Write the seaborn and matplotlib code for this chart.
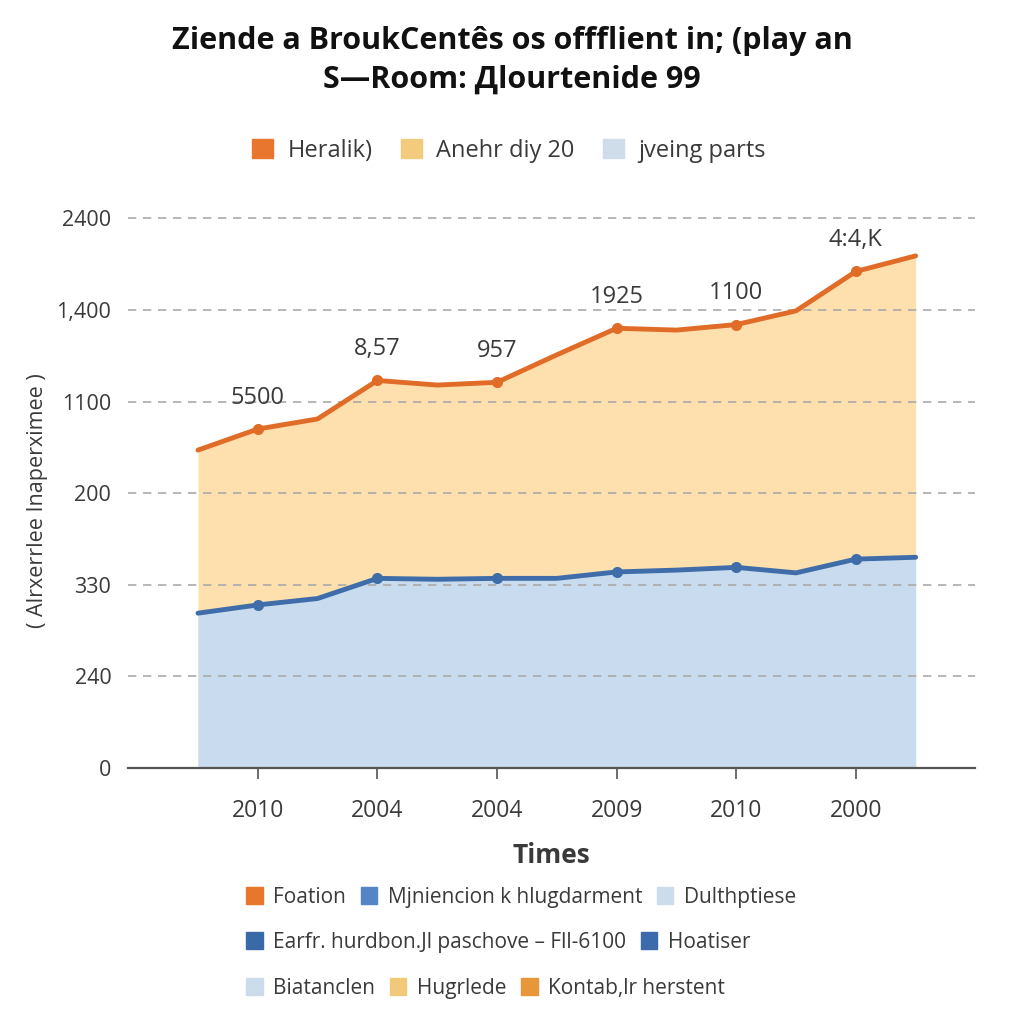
import matplotlib
matplotlib.use("Agg")
import matplotlib.pyplot as plt
from matplotlib.patches import Patch
import numpy as np
import pandas as pd
import seaborn as sns

# data (y in grid steps, grid labels are not linear)
idx = list(range(13))
orange_vals = [3.47, 3.70, 3.81, 4.23, 4.18, 4.21, 4.51, 4.80, 4.78, 4.84, 4.99, 5.42, 5.59]
blue_vals = [1.69, 1.78, 1.85, 2.07, 2.06, 2.07, 2.07, 2.14, 2.16, 2.19, 2.13, 2.28, 2.30]
point_labels = ["5500", "8,57", "957", "1925", "1100", "4:4,K"]
label_idx = [1, 3, 5, 7, 9, 11]
x_ticks = [1, 3, 5, 7, 9, 11]
x_ticklabels = ["2010", "2004", "2004", "2009", "2010", "2000"]
y_ticks = [0, 1, 2, 3, 4, 5, 6]
y_ticklabels = ["0", "240", "330", "200", "1100", "1,400", "2400"]

top_legend = ["Heralik)", "Anehr diy 20", "jveing parts"]
bottom_rows = [
    [("Foation", "#e8772e"), ("Mjniencion k hlugdarment", "#5585c5"), ("Dulthptiese", "#ccdceb")],
    [("Earfr. hurdbon.Jl paschove \u2013 Fll-6100", "#3a69a8"), ("Hoatiser", "#3b6baa")],
    [("Biatanclen", "#ccdceb"), ("Hugrlede", "#f2c97a"), ("Kontab,lr herstent", "#e8963a")],
]

df = pd.DataFrame({"i": idx, "orange": orange_vals, "blue": blue_vals})

sns.set_theme(style="white")
plt.rcParams["font.family"] = ["Open Sans", "DejaVu Sans"]

ORANGE = "#e06c28"
ORANGE_FILL = "#fde0ae"
BLUE = "#3e6daa"
BLUE_FILL = "#c9dbee"
TXT = "#3a3a3a"

fig = plt.figure(figsize=(10.24, 10.24), dpi=100)
ax = fig.add_axes([0.125, 0.25, 0.827, 0.5547])

ax.fill_between(df["i"], 0, df["orange"], color=ORANGE_FILL, lw=0, zorder=1)
ax.fill_between(df["i"], 0, df["blue"], color=BLUE_FILL, lw=0, zorder=1.1)

sns.lineplot(data=df, x="i", y="orange", ax=ax, color=ORANGE, lw=3.5,
             marker="o", markersize=8, markevery=label_idx, zorder=3,
             markeredgecolor=ORANGE, markeredgewidth=0, solid_capstyle="round")
sns.lineplot(data=df, x="i", y="blue", ax=ax, color=BLUE, lw=3.5,
             marker="o", markersize=8, markevery=label_idx, zorder=3,
             markeredgecolor=BLUE, markeredgewidth=0, solid_capstyle="round")

for k, lab in zip(label_idx, point_labels):
    ax.annotate(lab, (k, orange_vals[k]), xytext=(0, 14), textcoords="offset points",
                ha="center", va="bottom", fontsize=17, color=TXT)

ax.set_xlim(-1.17, 12.99)
ax.set_ylim(0, 6.2)
ax.set_yticks(y_ticks)
ax.set_yticklabels(y_ticklabels)
ax.set_xticks(x_ticks)
ax.set_xticklabels(x_ticklabels)
ax.tick_params(axis="y", length=0, pad=12, labelsize=15.5, labelcolor=TXT)
ax.tick_params(axis="x", bottom=True, length=8, width=1.2, color="#555555",
               pad=14, labelsize=16.5, labelcolor=TXT)

ax.set_axisbelow("line")
ax.yaxis.grid(True, color="#aaaaaa", lw=1.2, ls=(0, (5, 4)))
ax.xaxis.grid(False)
for s in ["top", "right", "left"]:
    ax.spines[s].set_visible(False)
ax.spines["bottom"].set_color("#555555")
ax.spines["bottom"].set_linewidth(1.6)

ax.set_xlabel("Times", fontsize=19, fontweight="bold", color=TXT, labelpad=14)
ax.set_ylabel("( Alrxerrlee Inaperximee )", fontsize=15.5, color=TXT)
ax.yaxis.set_label_coords(-0.095, 0.47)

fig.suptitle("Ziende a BroukCent\u00eas os offflient in; (play an\nS\u2014Room: \u0414lourtenide 99",
             y=0.975, fontsize=22, fontweight="bold", color="#111111", linespacing=1.4)

top_colors = ["#e8762e", "#f3cb7d", "#cfddeb"]
handles = [Patch(color=c, label=t) for t, c in zip(top_legend, top_colors)]
fig.legend(handles=handles, loc="center", bbox_to_anchor=(0.497, 0.853), ncol=3,
           frameon=False, fontsize=17, handlelength=0.9, handleheight=0.9,
           handletextpad=0.6, columnspacing=1.2, labelcolor=TXT)

row_y = [0.124, 0.080, 0.035]
for row, yy in zip(bottom_rows, row_y):
    hs = [Patch(color=c, label=t) for t, c in row]
    fig.legend(handles=hs, loc="center left", bbox_to_anchor=(0.222, yy), ncol=len(hs),
               frameon=False, fontsize=15, handlelength=0.8, handleheight=0.9,
               handletextpad=0.5, columnspacing=0.7, labelcolor=TXT)

fig.savefig("out.png", dpi=100, facecolor="white")
